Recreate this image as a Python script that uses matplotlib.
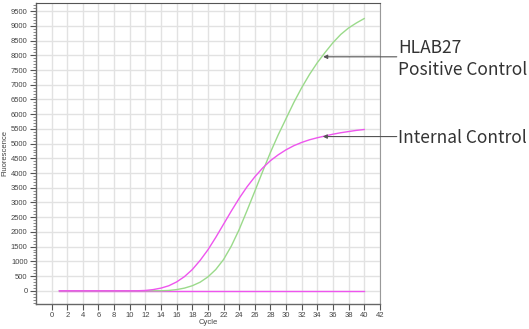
import numpy as np
import matplotlib.pyplot as plt
from matplotlib.ticker import MultipleLocator

# amplification curves, fluorescence per cycle
cycles = np.arange(1, 41)
positive_ctrl = [0, 0, 0, 0, 0, 0, 0, 0, 0, 0,
                 0, 0, 0, 0, 10, 40, 90, 170, 290, 470,
                 720, 1060, 1520, 2080, 2720, 3380, 4050, 4700, 5300, 5850,
                 6400, 6900, 7350, 7750, 8100, 8430, 8710, 8930, 9100, 9250]
internal_ctrl = [0, 0, 0, 0, 0, 0, 0, 0, 0, 0,
                 0, 10, 40, 90, 170, 300, 480, 720, 1030, 1390,
                 1810, 2260, 2710, 3140, 3530, 3870, 4170, 4420, 4620, 4790,
                 4930, 5040, 5130, 5200, 5260, 5320, 5370, 5410, 5450, 5480]
negative_ctrl = [0] * 40

labels = ['HLAB27\nPositive Control', 'Internal Control']
arrow_at = [(34.75, 7950), (34.7, 5240)]

fig = plt.figure(figsize=(5.29, 3.29), dpi=100)
ax = fig.add_axes([0.068, 0.076, 0.650, 0.915])

green = '#9ada8a'
magenta = '#ee55ee'
ax.plot(cycles, negative_ctrl, color=magenta, lw=1.0)
ax.plot(cycles, positive_ctrl, color=green, lw=1.0)
ax.plot(cycles, internal_ctrl, color=magenta, lw=1.0)

ax.set_xlim(-2, 42)
ax.set_ylim(-450, 9780)
ax.set_xticks(np.arange(0, 43, 2))
ax.yaxis.set_major_locator(MultipleLocator(500))
ax.yaxis.set_minor_locator(MultipleLocator(100))
ax.grid(True, which='major', color='#e2e2e2', lw=1.0)
ax.set_axisbelow(True)

for s in ['left', 'bottom']:
    ax.spines[s].set_color('#666666')
    ax.spines[s].set_linewidth(1.0)
ax.spines['top'].set_color('#555555')
ax.spines['right'].set_color('#999999')

tick_font = {'family': 'Liberation Sans', 'size': 5.5}
ax.tick_params(axis='both', which='major', direction='out', length=4,
               width=0.8, color='#555555', labelcolor='#444444', labelsize=5.5, pad=2)
ax.tick_params(axis='y', which='minor', direction='out', length=2,
               width=0.6, color='#777777')
for lbl in ax.get_xticklabels() + ax.get_yticklabels():
    lbl.set_family('Liberation Sans')
ax.set_xlabel('Cycle', fontdict=tick_font, color='#444444', labelpad=0)
ax.set_ylabel('Fluorescence', fontdict=tick_font, color='#444444', labelpad=2)

# callouts on the right: horizontal pointer from the label to the curve
text_y = [0.821, 0.581]
for (cx, cy), lab, ty in zip(arrow_at, labels, text_y):
    ax.annotate('', xy=(cx, cy), xycoords='data',
                xytext=(0.750, cy), textcoords=('figure fraction', 'data'),
                arrowprops=dict(arrowstyle='-|>', color='#555555', lw=0.8,
                                mutation_scale=6, shrinkA=0, shrinkB=0))
    fig.text(0.753, ty, lab, family='Noto Sans CJK SC', fontsize=12.5,
             color='#333333', va='center', ha='left', linespacing=1.25)

fig.savefig('out.png', dpi=100)
